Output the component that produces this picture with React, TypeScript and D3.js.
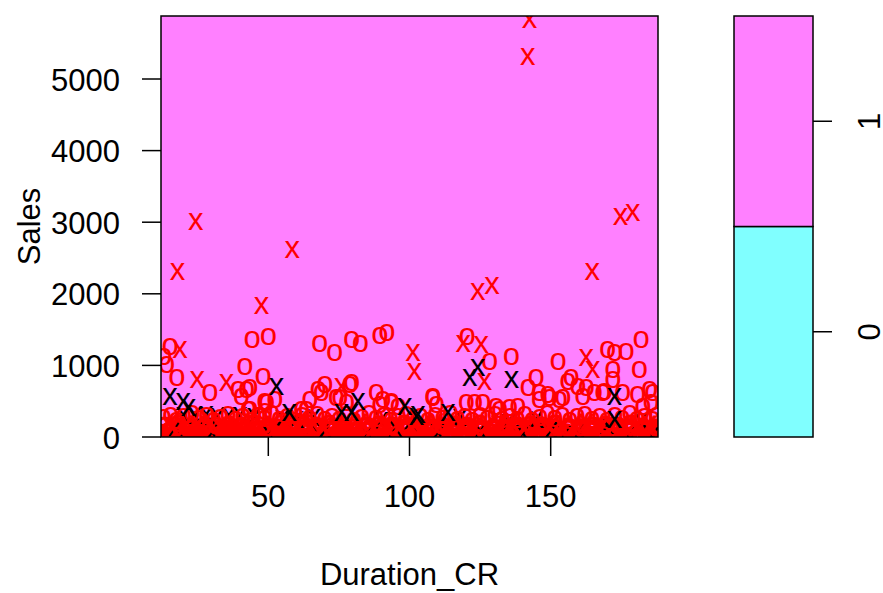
import React from "react";
import * as d3 from "d3";

// ---- data (Duration_CR, Sales) ----
const xTicks = [50, 100, 150];
const yTicks = [0, 1000, 2000, 3000, 4000, 5000];
const legendLevels = ["0", "1"];
const legendColors = ["#80FFFF", "#FF80FF"];

// class 1, support vectors (red x)
const redX: [number, number][] = [
  [142.5, 5830], [141.9, 5303], [174.7, 3077], [179.1, 3124], [24.3, 3007], [58.5, 2612],
  [17.8, 2309], [164.7, 2309], [124.2, 2030], [129.2, 2109], [47.6, 1830], [18.7, 1215],
  [101.2, 1169], [101.8, 912], [119.0, 1300], [125.4, 1290], [162.6, 1100], [164.9, 936],
  [126.6, 772], [24.8, 800], [35.2, 760], [75.9, 703],
];

// class 1, other points (red o)
const redO: [number, number][] = [
  [15.2, 1261], [44.3, 1355], [50.0, 1401], [68.2, 1305], [73.5, 1175], [79.5, 1355],
  [82.6, 1294], [89.5, 1415], [92.0, 1457], [120.4, 1401], [128.4, 1052], [136.1, 1122],
  [152.6, 1052], [170.2, 1215], [172.6, 1169], [176.7, 1191], [182.0, 1355], [14.0, 1006],
  [13.0, 1122], [17.6, 820], [41.7, 982], [48.2, 842], [29.3, 610], [39.3, 656], [42.3, 656],
  [43.5, 680], [40.5, 563], [43.5, 377], [49.4, 470], [52.3, 517], [48.8, 353], [64.7, 517],
  [67.6, 656], [70.0, 726], [63.5, 377], [74.1, 540], [79.5, 749], [77.7, 470], [88.3, 610],
  [90.6, 517], [93.6, 470], [96.0, 423], [89.5, 447], [157.2, 820], [172.0, 936], [181.4, 936],
  [172.0, 796], [144.8, 820], [142.0, 680], [146.0, 610], [149.0, 587], [154.3, 540],
  [161.4, 563], [162.6, 680], [168.5, 610], [175.5, 610], [186.1, 610], [108.3, 563],
  [120.1, 470], [123.1, 470], [130.7, 423], [135.5, 400], [182.6, 423], [185.6, 470],
  [75.3, 540], [78.9, 726], [93.6, 493], [108.3, 540], [109.5, 447], [126.0, 470], [68.8, 610],
  [146.0, 517], [149.6, 540], [153.1, 517], [156.1, 772], [165.5, 610], [169.0, 633],
  [180.8, 587], [185.0, 656], [159.6, 703], [131.9, 377], [138.4, 423], [48.8, 493],
  [42.9, 377], [61.8, 377],
];

// class 0, support vectors (black x)
const blackX: [number, number][] = [
  [52.9, 694], [15.2, 563], [19.9, 493], [21.7, 400], [57.4, 339], [81.8, 493], [98.3, 423],
  [121.3, 820], [124.2, 960], [136.1, 796], [172.6, 563], [103.0, 307], [113.6, 330],
  [172.6, 237], [102.5, 284], [79.5, 330], [75.9, 330],
];

// class 0, low-sales points inside the dense band
const blackLow: [number, number][] = [
  [20, 300], [24, 290], [28, 310], [32, 285], [36, 300], [40, 290], [45, 280], [55, 250],
  [60, 240], [66, 260], [30, 60], [50, 40], [70, 80], [85, 30], [95, 110], [110, 50],
  [125, 70], [140, 40], [150, 90], [160, 60], [178, 30], [186, 20], [65, 150], [100, 180],
  [135, 200], [170, 160], [17, 120], [90, 220], [118, 260], [145, 240], [155, 30], [182, 210],
];

// class 1, dense low-sales band
const bandA: [number, number][] = [
  [12.5, 40], [14.8, 70], [16.9, 25], [19.2, 55], [21.0, 85], [23.4, 30], [25.6, 60], [27.7, 20],
  [30.1, 75], [32.3, 45], [34.2, 90], [36.8, 30], [38.9, 65], [41.1, 20], [43.2, 50], [45.6, 80],
  [47.5, 35], [49.9, 60], [52.0, 25], [54.3, 70], [56.5, 40], [58.6, 85], [60.9, 30], [63.1, 55],
  [65.2, 20], [67.4, 75], [69.8, 45], [71.9, 90], [74.0, 30], [76.3, 60], [78.5, 25], [80.7, 70],
  [82.8, 40], [85.0, 80], [87.3, 35], [89.4, 55], [91.6, 20], [93.9, 75], [96.0, 45], [98.2, 85],
  [100.5, 30], [102.6, 60], [104.8, 25], [107.0, 70], [109.3, 40], [111.4, 80], [113.6, 35],
  [115.8, 55], [118.1, 20], [120.2, 75], [122.4, 45], [124.7, 90], [126.8, 30], [129.0, 60],
  [131.2, 25], [133.5, 70], [135.6, 40], [137.9, 85], [140.0, 30], [142.2, 55], [144.5, 20],
  [146.6, 75], [148.8, 45], [151.0, 80], [153.3, 35], [155.4, 60], [157.7, 25], [159.8, 70],
  [162.0, 40], [164.3, 85], [166.4, 30], [168.6, 55], [170.9, 20], [173.0, 75], [175.2, 45],
  [177.5, 90], [179.6, 30], [181.8, 60], [184.1, 25], [186.2, 70], [187.8, 40],
];
const bandB: [number, number][] = [
  [13.3, 150], [15.9, 120], [18.1, 180], [20.4, 140], [22.6, 110], [24.9, 170], [27.0, 130],
  [29.3, 190], [31.5, 150], [33.7, 115], [36.0, 175], [38.1, 135], [40.4, 160], [42.6, 120],
  [44.8, 185], [47.1, 145], [49.2, 110], [51.5, 170], [53.7, 130], [55.9, 190], [58.1, 150],
  [60.3, 115], [62.6, 175], [64.8, 135], [67.0, 160], [69.2, 120], [71.5, 185], [73.7, 145],
  [75.9, 110], [78.1, 170], [80.4, 130], [82.6, 190], [84.8, 150], [87.0, 115], [89.3, 175],
  [91.5, 135], [93.7, 160], [95.9, 120], [98.2, 185], [100.4, 145], [102.6, 110], [104.9, 170],
  [107.1, 130], [109.3, 190], [111.5, 150], [113.8, 115], [116.0, 175], [118.2, 135],
  [120.4, 160], [122.7, 120], [124.9, 185], [127.1, 145], [129.3, 110], [131.6, 170],
  [133.8, 130], [136.0, 190], [138.2, 150], [140.5, 115], [142.7, 175], [144.9, 135],
  [147.1, 160], [149.4, 120], [151.6, 185], [153.8, 145], [156.0, 110], [158.3, 170],
  [160.5, 130], [162.7, 190], [164.9, 150], [167.2, 115], [169.4, 175], [171.6, 135],
  [173.8, 160], [176.1, 120], [178.3, 185], [180.5, 145], [182.7, 110], [185.0, 170], [187.2, 130],
];
const bandC: [number, number][] = [
  [12.8, 260], [15.4, 300], [17.5, 230], [20.0, 280], [22.9, 320], [25.3, 250], [28.2, 290],
  [30.6, 225], [33.1, 270], [35.8, 310], [38.4, 240], [41.0, 285], [43.9, 230], [46.3, 300],
  [48.7, 255], [51.2, 320], [53.9, 240], [56.8, 275], [59.4, 225], [62.0, 295], [64.5, 250],
  [67.3, 315], [70.0, 235], [72.6, 280], [75.2, 245], [77.8, 305], [80.3, 230], [83.1, 270],
  [85.7, 320], [88.2, 250], [90.9, 290], [93.4, 230], [96.1, 275], [98.8, 310], [101.3, 245],
  [103.9, 285], [106.6, 225], [109.2, 300], [111.8, 255], [114.5, 320], [117.0, 240],
  [119.7, 280], [122.3, 230], [125.0, 295], [127.6, 250], [130.3, 315], [132.9, 235],
  [135.6, 280], [138.2, 245], [140.9, 305], [143.5, 230], [146.2, 270], [148.8, 320],
  [151.5, 250], [154.1, 290], [156.8, 230], [159.4, 275], [162.1, 310], [164.7, 245],
  [167.4, 285], [170.0, 225], [172.7, 300], [175.3, 255], [178.0, 320], [180.6, 240],
  [183.3, 280], [186.0, 235], [187.5, 300],
];
const bandD: [number, number][] = [
  [13.9, 10], [15.7, 95], [18.0, 5], [20.1, 110], [22.3, 15], [24.4, 100], [26.6, 8],
  [28.9, 120], [31.2, 12], [33.0, 105], [35.5, 5], [37.7, 95], [39.9, 18], [42.1, 115],
  [44.4, 6], [46.6, 100], [48.8, 14], [51.0, 120], [53.2, 8], [55.4, 95], [57.7, 16],
  [59.8, 110], [62.0, 5], [64.2, 100], [66.3, 12], [68.6, 120], [70.8, 9], [73.0, 95],
  [75.2, 15], [77.4, 110], [79.6, 6], [81.8, 100], [84.0, 18], [86.2, 120], [88.4, 8],
  [90.6, 95], [92.8, 14], [95.0, 110], [97.2, 5], [99.4, 100], [101.6, 12], [103.8, 120],
  [106.0, 9], [108.2, 95], [110.4, 16], [112.6, 110], [114.8, 6], [117.0, 100], [119.2, 15],
  [121.4, 120], [123.6, 8], [125.8, 95], [128.0, 14], [130.2, 110], [132.4, 5], [134.6, 100],
  [136.8, 18], [139.0, 120], [141.2, 9], [143.4, 95], [145.6, 12], [147.8, 110], [150.0, 6],
  [152.2, 100], [154.4, 16], [156.6, 120], [158.8, 8], [161.0, 95], [163.2, 14], [165.4, 110],
  [167.6, 5], [169.8, 100], [172.0, 18], [174.2, 120], [176.4, 9], [178.6, 95], [180.8, 12],
  [183.0, 110], [185.2, 6], [187.4, 100],
];

const W = 883;
const H = 593;
const FONT = "'Liberation Sans', Arial, Helvetica, sans-serif";
const FS = 31;

export default function App() {
  const left = 161, right = 658, top = 16, bottom = 437;
  const x = d3.scaleLinear().domain([12, 188]).range([left, right]);
  const y = d3.scaleLinear().domain([0, 5880]).range([bottom, top]);

  const legL = 734, legR = 813;
  const yl = d3.scaleLinear().domain([-0.5, 1.5]).range([bottom, top]);

  const glyphs = (pts: [number, number][], ch: string, color: string, key: string, sw = 0) =>
    pts.map((p, i) => (
      <text
        key={key + i}
        x={x(p[0])}
        y={y(p[1])}
        dy="0.26em"
        textAnchor="middle"
        fill={color}
        stroke={sw > 0 ? color : "none"}
        strokeWidth={sw}
        fontSize={FS}
        fontFamily={FONT}
      >
        {ch}
      </text>
    ));

  return (
    <svg
      width={W}
      height={H}
      style={{ position: "absolute", left: 0, top: 0, background: "#fff" }}
    >
      <defs>
        <clipPath id="panel">
          <rect x={left} y={top} width={right - left} height={bottom - top} />
        </clipPath>
      </defs>
      <rect x={0} y={0} width={W} height={H} fill="#fff" />
      {/* panel background: predicted class 1 everywhere */}
      <rect x={left} y={top} width={right - left} height={bottom - top} fill="#FF80FF" />
      <g clipPath="url(#panel)">
        {glyphs(bandD, "o", "#FF0000", "d", 1.5)}
        {glyphs(bandA, "o", "#FF0000", "a", 1.5)}
        {glyphs(blackLow, "x", "#000000", "bl")}
        {glyphs(bandB.filter((_, i) => i % 2 === 0), "o", "#FF0000", "b1", 1)}
        {glyphs(bandB.filter((_, i) => i % 2 === 1), "x", "#FF0000", "b2", 1)}
        {glyphs(bandC, "o", "#FF0000", "c")}
        {glyphs(redO, "o", "#FF0000", "ro")}
        {glyphs(redX, "x", "#FF0000", "rx")}
        {glyphs(blackX, "x", "#000000", "bx")}
      </g>
      <rect x={left} y={top} width={right - left} height={bottom - top} fill="none" stroke="#000" strokeWidth={1.5} />

      {/* x axis */}
      {xTicks.map((t) => (
        <g key={"xt" + t}>
          <line x1={x(t)} x2={x(t)} y1={bottom} y2={bottom + 19} stroke="#000" strokeWidth={1.5} />
          <text x={x(t)} y={507} textAnchor="middle" fontSize={FS} fontFamily={FONT} fill="#000">
            {t}
          </text>
        </g>
      ))}
      {/* y axis */}
      {yTicks.map((t) => (
        <g key={"yt" + t}>
          <line x1={left - 19} x2={left} y1={y(t)} y2={y(t)} stroke="#000" strokeWidth={1.5} />
          <text x={120} y={y(t) + 11.5} textAnchor="end" fontSize={FS} fontFamily={FONT} fill="#000">
            {t}
          </text>
        </g>
      ))}
      <text x={(left + right) / 2} y={585} textAnchor="middle" fontSize={FS} fontFamily={FONT} fill="#000">
        Duration_CR
      </text>
      <text
        transform={`translate(40,${(top + bottom) / 2}) rotate(-90)`}
        textAnchor="middle"
        fontSize={FS}
        fontFamily={FONT}
        fill="#000"
      >
        Sales
      </text>

      {/* legend */}
      {legendLevels.map((lv, i) => (
        <g key={"lg" + lv}>
          <rect
            x={legL}
            y={yl(i + 0.5)}
            width={legR - legL}
            height={yl(i - 0.5) - yl(i + 0.5)}
            fill={legendColors[i]}
            stroke="#000"
            strokeWidth={1.5}
          />
        </g>
      ))}
      {legendLevels.map((lv, i) => (
        <g key={"lt" + lv}>
          <line x1={legR} x2={legR + 19} y1={yl(i)} y2={yl(i)} stroke="#000" strokeWidth={1.5} />
          <text
            transform={`translate(880,${yl(i)}) rotate(-90)`}
            textAnchor="middle"
            fontSize={FS}
            fontFamily={FONT}
            fill="#000"
          >
            {lv}
          </text>
        </g>
      ))}
    </svg>
  );
}
